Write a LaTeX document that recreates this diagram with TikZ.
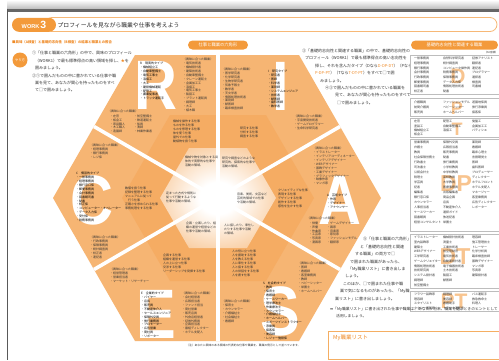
\documentclass[tikz,border=0pt]{standalone}
\usepackage{fontspec}
\setmainfont{Noto Sans CJK JP}
\newfontfamily\lsans{Liberation Sans}
\newfontfamily\djv{DejaVu Sans}
\definecolor{org}{HTML}{F39A3B}
\definecolor{orgt}{HTML}{EF8A26}
\definecolor{hexlt}{HTML}{F9CD9D}
\definecolor{hexmd}{HTML}{F6B573}
\definecolor{hexdk}{HTML}{F5AC63}
\definecolor{ltr}{HTML}{F8C48F}
\definecolor{tbl}{HTML}{BDBDBD}
\definecolor{ink}{HTML}{333333}
\pgfdeclareradialshading{outsh}{\pgfpointorigin}{color(0bp)=(hexmd);color(28bp)=(hexmd);color(50bp)=(hexlt)}
\pgfdeclareradialshading{glow}{\pgfpointorigin}{color(0bp)=(white);color(8bp)=(white);color(30bp)=(hexdk!65);color(50bp)=(hexdk)}
\tikzset{
  lst/.style={font=\fontsize{3}{3.9}\selectfont, align=left, anchor=north west, inner sep=0pt, text=ink},
  typ/.style={lst, text=black},
  bigl/.style={font=\lsans\bfseries\fontsize{70}{70}\selectfont, text=white, xscale=0.85, inner sep=0pt},
  ins/.style={font=\fontsize{4}{4}\selectfont, anchor=west, inner sep=0pt, text=ink},
  pill/.style={fill=org, rounded corners=4.5pt, text=white, inner sep=0pt, font=\fontsize{4.3}{4.3}\selectfont},
  tbox/.style={draw=tbl, line width=0.5pt, fill=white},
  tcol/.style={font=\fontsize{3}{5}\selectfont, align=left, anchor=north west, inner sep=0pt, text=ink},
  pl/.style={font=\lsans\bfseries\fontsize{22}{22}\selectfont, text=ltr, inner sep=0pt},
  divider/.style={white, line width=3.6pt},
}
\begin{document}
\begin{tikzpicture}[x=1pt,y=-1pt]
\useasboundingbox (0,0) rectangle (499,360);
\fill[white] (0,0) rectangle (499,360);
% page frame
\shade[top color=white, bottom color=black!25] (7,0) rectangle (499,8.5);
\fill[black!60] (7,8.5) rectangle (499,12);
\draw[black!65, line width=0.9pt] (7,8.5) -- (7,360);

% title
\draw[org!70, line width=0.8pt, rounded corners=7pt] (45,17.5) rectangle (497,31.5);
\node[fill=org, rounded corners=7pt, minimum width=44pt, minimum height=14pt, inner sep=0pt, text=white] (work) at (34,24.8) {\lsans\bfseries\fontsize{5.6}{5.6}\selectfont WORK\,\fontsize{10.5}{10.5}\selectfont 3};
\node[font=\fontsize{5.8}{5.8}\selectfont, anchor=west, inner sep=0pt, text=black!85] (title) at (57.5,24.8) {プロフィールを見ながら職業や仕事を考えよう};

% subheading
\node[font=\bfseries\fontsize{3.4}{3.4}\selectfont, anchor=west, inner sep=0pt, text=orgt] (sub) at (12,42.5) {■興味（A検査）と基礎的志向性（B検査）の結果と職業との照合};
\node[circle, fill=org, minimum size=15pt, inner sep=0pt, text=white, font=\fontsize{3.3}{3.3}\selectfont] (yari) at (20,60) {やり方};

% left instructions
\node[ins] (i1) at (32,53) {①「仕事と職業の六角形」の中で、興味のプロフィール};
\node[ins] (i2) at (35,60.5) {（WORK1）で最も標準得点の高い領域を探し、\textcolor{orgt}{★}を};
\node[ins] (i3) at (35,68) {囲みましょう。};
\node[ins] (i4) at (32,75.5) {②①で囲んだものの中に書かれている仕事や職};
\node[ins] (i5) at (35,83) {業を見て、あなたが関心を持ったものをすべ};
\node[ins] (i6) at (35,90.5) {て□で囲みましょう。};

% pills
\node[pill, minimum width=60pt, minimum height=9pt] (hexpill) at (218,45) {仕事と職業の六角形};
\node[pill, minimum width=87pt, minimum height=9pt] (dptpill) at (454.5,45) {基礎的志向性と関連する職業};
\node[font=\fontsize{2.6}{2.6}\selectfont, anchor=east, inner sep=0pt, text=ink] (order) at (498,52.5) {（50音順）};

% hexagon
\shade[shading=outsh] (53,198) -- (135,55) -- (299,55) -- (381,198) -- (299,341) -- (135,341) -- cycle;
\fill[hexdk] (314,198) -- (266,115) -- (170,115) -- (122,198) -- (170,281) -- (266,281) -- cycle;
\shade[shading=glow] (276,198) -- (247,148) -- (189,148) -- (160,198) -- (189,248) -- (247,248) -- cycle;
\coordinate (mT) at (218,55); \coordinate (mB) at (218,341);
\coordinate (mUL) at (94,126.5); \coordinate (mLR) at (340,269.5);
\coordinate (mLL) at (94,269.5); \coordinate (mUR) at (340,126.5);
\draw[divider] (mT) -- (mB);
\draw[divider] (mUL) -- (mLR);
\draw[divider] (mLL) -- (mUR);

% big letters
\node[bigl] (LR) at (156,85) {R};
\node[bigl] (LI) at (281,86) {I};
\node[bigl] (LA) at (340,200) {A};
\node[bigl] (LS) at (280,311) {S};
\node[bigl] (LE) at (156,314) {E};
\node[bigl] (LC) at (92,200) {C};

% R sector
\node[typ] (Rt) at (140,62) {R　現実的タイプ\\・機械組立工\\・自動車整備士\\・電気工事士\\・溶接工\\・大工\\・建設機械運転\\・配管工\\・農業従事者\\・トラック運転手};
\node[lst] (Ru) at (183,58) {〈興味に合った職業〉\\・電気技術者\\・機械設計者\\・建築技術者\\・自動車整備士\\・クレーン運転士\\・金属加工工\\・溶接工\\・電気工事士\\・製図工\\・プラント運転員\\・調理師\\・大工\\・植木職};
\node[lst] (Rh) at (108,110) {〈興味に合った職業〉};
\node[lst] (Rc1) at (110,114.5) {・左官\\・板金工\\・家具職人\\・木工職人\\・造園師};
\node[lst] (Rc2) at (134,114.5) {・航空整備士\\・鉄道運転士\\・船員\\・漁師\\・林業作業者};
\node[lst] (Rm) at (173,120) {機械を操作する仕事\\ものを作る仕事\\ものを修理する仕事\\体を使う仕事\\屋外での仕事\\動植物を扱う仕事};
\node[lst] (Ri) at (185,156) {機械や物を対象とする具\\体的で実際的な仕事や\\活動の領域。};

% I sector
\node[lst] (Il) at (222,68) {〈興味に合った職業〉\\・医学研究者\\・化学研究者\\・生物学研究者\\・気象予報士\\・数学者\\・天文学者\\・情報処理技術者\\・薬剤師\\・獣医師\\・臨床検査技師};
\node[typ] (It) at (268,70) {I　研究タイプ\\・研究者\\・医師\\・科学者\\・薬剤師\\・システムエンジニア\\・技術者\\・獣医師\\・歯科医師\\・数学者};
\node[lst] (Ir) at (294,115) {〈興味に合った職業〉\\・宇宙開発技術者\\・ゲームプログラマー\\・生命科学研究者};
\node[lst] (Im) at (240,127) {研究する仕事\\分析する仕事\\調査する仕事};
\node[lst] (Ii) at (222,157) {研究や調査などのような\\研究的、探索的な仕事や\\活動の領域。};

% A sector
\node[lst] (Au) at (313,147) {〈興味に合った職業〉\\・イラストレーター\\・インテリアコーディネーター\\・インテリアデザイナー\\・WEBデザイナー\\・服飾デザイナー\\・工業デザイナー\\・グラフィックデザイナー\\・映像作家\\・マンガ家};
\node[typ] (At) at (327,194) {A　芸術タイプ\\・作家\\・デザイナー\\・アナウンサー};
\node[lst] (Ah) at (307,217) {〈興味に合った職業〉};
\node[lst] (Ac1) at (309,221.5) {・俳優\\・声優\\・作曲家\\・工芸家\\・写真家\\・漫画家};
\node[lst] (Ac2) at (327,221.5) {・ゲームデザイナー\\・画家\\・音楽家\\・彫刻家\\・ファッションモデル\\・翻訳家};
\node[lst] (Am) at (278,189) {クリエイティブな仕事\\表現する仕事\\デザインする仕事\\創作する仕事\\感性を生かす仕事};
\node[lst] (Ai) at (237,193) {音楽、美術、文芸など\\芸術的領域での仕事\\や活動の領域。};

% S sector
\node[lst] (Sr) at (298,262) {〈興味に合った職業〉\\・医師\\・看護師\\・客室乗務員\\・教師\\・ベビーシッター\\・栄養士\\・ホームヘルパー};
\node[typ] (St) at (263,282) {S　社会的タイプ\\・教員\\・保育士\\・看護師\\・ケースワーカー\\・理学療法士\\・作業療法士\\・カウンセラー\\・介護福祉士\\・ホームヘルパー\\・スポーツインストラクター\\・添乗員\\・接客係\\・美容師\\・レジャー施設係};
\node[lst] (Sl) at (222,300) {〈興味に合った職業〉\\・保育士\\・カウンセラー\\・介護福祉士\\・社会福祉士\\・看護師};
\node[lst] (Sm) at (232,250) {人の役に立つ仕事\\人を援助する仕事\\人を教える仕事\\人に奉仕する仕事\\人と接する仕事\\人の世話をする仕事\\人を癒す仕事};
\node[lst] (Si) at (224,224) {人に接したり、奉仕し\\たりする仕事や活動\\の領域。};

% E sector
\node[lst] (Ei) at (186,222) {企画・立案したり、組\\織の運営や経営などの\\仕事や活動の領域。};
\node[lst] (Em) at (163,254) {企画する仕事\\組織を運営する仕事\\人の上に立つ仕事\\交渉する仕事\\リーダーシップを発揮する仕事};
\node[lst] (Eu) at (110,268) {〈興味に合った職業〉\\・経営管理者\\・営業担当者\\・マーケット・リサーチャー};
\node[typ] (Et) at (141,292) {E　企業的タイプ\\・バイヤー\\・店長\\・販売員\\・不動産仲介人\\・セールスエンジニア\\・保険外交員\\・旅行業務員\\・プロモーター\\・広告営業\\・商社員\\・リポーター};
\node[lst] (Er) at (182,292) {〈興味に合った職業〉\\・会社経営者\\・広報担当者\\・ファンド担当\\・商社営業\\・販売店員\\・外食店経営者\\・証券外務員\\・企画担当者\\・番組ディレクター\\・ホテル支配人};

% C sector
\node[lst] (Cu) at (90,144) {〈興味に合った職業〉\\・経理事務員\\・銀行事務員\\・レジ係};
\node[typ] (Ct) at (76,172) {C　慣習的タイプ\\・一般事務員\\・経理事務員\\・銀行窓口係\\・郵便事務員\\・会計事務員\\・図書館司書\\・秘書\\・校正係\\・コンピューター・オペレーター\\・データ入力係\\・受付係\\・税務事務員};
\node[lst] (Cl) at (90,236) {〈興味に合った職業〉\\・行政事務員\\・保険事務員\\・統計調査員\\・校正者\\・速記者};
\node[lst] (Cm) at (125,187) {数値を扱う仕事\\記録を整理する仕事\\マニュアルに従って\\　行う仕事\\正確さを求められる仕事\\事務処理をする仕事};
\node[lst] (Ci) at (166,192) {定まった方式や規則に\\従って行動するような\\仕事や活動の領域。};

\node[font=\fontsize{2.8}{2.8}\selectfont, anchor=west, inner sep=0pt, text=ink] (note) at (186,345.5) {（注）あなたに興味のある領域の代表的な仕事や職業を、職業の例示として並べています。};

% right instructions
\node[ins] (r1) at (302,51) {③「基礎的志向性と関連する職業」の中で、基礎的志向性の};
\node[ins] (r2) at (305,58.4) {プロフィール（WORK1）で最も標準得点の高い志向性を};
\node[ins] (r3) at (315,65.8) {探し、それを含んだタイプ（Dなら\textcolor{orgt}{D-DP-DT}）（Pなら};
\node[ins] (r4) at (315,73.2) {\textcolor{orgt}{P-DP-PT}）（Tなら\textcolor{orgt}{T-DT-PT}）をすべて□で囲};
\node[ins] (r5) at (320,80.6) {みましょう。};
\node[ins] (r6) at (325,88) {④③で囲んだものの中に書かれている職業を};
\node[ins] (r7) at (335,95.4) {見て、あなたが関心を持ったものをすべて};
\node[ins] (r8) at (337,102.8) {□で囲みましょう。};

% fifth instructions
\node[ins] (f1) at (363,239) {⑤「仕事と職業の六角形」};
\node[ins] (f2) at (360,246.5) {と「基礎的志向性と関連};
\node[ins] (f3) at (355,254) {する職業」の両方で□};
\node[ins] (f4) at (350,261.5) {で囲まれた職業があったら、};
\node[ins] (f5) at (348,269) {「My職業リスト」に書き出しま};
\node[ins] (f6) at (345,276.5) {しょう。};
\node[ins] (f7) at (343,284) {このほか、□で囲まれた仕事や職};
\node[ins] (f8) at (340,291.5) {業で気になるものがあったら、「My職};
\node[ins] (f9) at (335,299) {業リスト」に書き出しましょう。};

% right panel tables
\draw[tbox] (410,55) rectangle (502,94);
\draw[tbox] (410,98) rectangle (502,116);
\draw[tbox] (410,118) rectangle (502,137);
\draw[tbox] (410,139) rectangle (502,231);
\draw[tbox] (410,234) rectangle (502,288);
\draw[tbox] (410,291) rectangle (502,311);
\node[pl, font=\lsans\bfseries\fontsize{21}{21}\selectfont] (pD) at (458,76) {D};
\node[pl, font=\lsans\bfseries\fontsize{18}{18}\selectfont] (pP) at (457,108) {P};
\node[pl, font=\lsans\bfseries\fontsize{18}{18}\selectfont] (pT) at (457,129) {T};
\node[pl, font=\lsans\bfseries\fontsize{23}{23}\selectfont] (pDP) at (456,184) {DP};
\node[pl, font=\lsans\bfseries\fontsize{23}{23}\selectfont] (pDT) at (455,257) {DT};
\node[pl, font=\lsans\bfseries\fontsize{21}{21}\selectfont] (pPT) at (454,301) {PT};

\begin{scope}[every node/.style={tcol}]
\node[font=\fontsize{3}{4.7}\selectfont] (d1) at (414,57) {一般事務員\\経理事務員\\銀行事務員\\会計事務員\\行政事務員\\郵便事務員\\図書館司書\\校正者};
\node[font=\fontsize{3}{4.7}\selectfont] (d2) at (443,57) {自然科学研究者\\統計調査員\\コンピュータ操作員\\税務事務員\\保険事務員\\データ入力係\\情報処理技術者\\秘書};
\node[font=\fontsize{3}{4.7}\selectfont] (d3) at (472,57) {証券アナリスト\\翻訳者\\速記者\\プログラマー\\通訳者\\検査員\\司書補};
\node (p1) at (414,100.5) {介護職員\\訪問介護員\\販売員};
\node (p2) at (443,100.5) {ファッションモデル\\ベビーシッター\\ホームヘルパー};
\node (p3) at (472,100.5) {遊園地係員\\旅行添乗員\\接客係};
\node[font=\fontsize{3}{4.4}\selectfont] (t1) at (414,120) {左官\\塗装工\\機械組立工\\板金工};
\node[font=\fontsize{3}{4.4}\selectfont] (t2) at (443,120) {配管工\\自動車整備工\\溶接工};
\node[font=\fontsize{3}{4.4}\selectfont] (t3) at (472,120) {旋盤工\\金属加工工\\パティシエ};
\node (dp1) at (414,141) {営業事務員\\弁護士\\教員\\社会保険労務士\\行政書士\\司法書士\\公認会計士\\税理士\\学芸員\\記者\\編集者\\銀行窓口係\\カウンセラー\\人事担当者\\ケースワーカー\\図書館員\\経営コンサルタント};
\node (dp2) at (443,141) {保険外交員\\広報担当者\\販売事務員\\秘書\\旅行業務員\\小学校教員\\中学校教員\\高校教員\\大学教員\\医療事務員\\出版編集者\\商品企画\\店長\\不動産仲介人\\通訳ガイド\\放送記者\\栄養士};
\node (dp3) at (472,141) {薬剤師\\看護師\\臨床心理士\\言語聴覚士\\医師\\歯科医師\\プロデューサー\\ディレクター\\ホテルフロント\\ホテル支配人\\マネージャー\\客室乗務員\\広告ディレクター\\レポーター};
\node[font=\fontsize{3}{4.75}\selectfont] (dt1) at (414,236) {イラストレーター\\室内装飾家\\建築士\\WEBデザイナー\\工学研究者\\ゲームクリエイター\\情報処理技術者\\技術研究員\\システム設計者\\調理師\\航空整備士};
\node[font=\fontsize{3}{4.75}\selectfont] (dt2) at (443,236) {機械設計技術者\\測量士\\工業技術者\\航空管制官\\電気技術者\\自動車設計者\\電子機器技術者\\土木技術者\\製図工\\獣医師};
\node[font=\fontsize{3}{4.75}\selectfont] (dt3) at (472,236) {理容師\\施工管理技士\\トレーサー\\化学分析員\\臨床検査技師\\服飾デザイナー\\マンガ家\\写真家\\建築設計者};
\node[font=\fontsize{3}{4.5}\selectfont] (pt1) at (414,293) {フラワー装飾家\\理容師\\スタイリスト\\タクシー運転手};
\node[font=\fontsize{3}{4.5}\selectfont] (pt2) at (443,293) {調理師\\美容師\\看護助手\\トラック運転手};
\node[font=\fontsize{3}{4.5}\selectfont] (pt3) at (472,293) {バス運転手\\救急救命士\\料理人};
\end{scope}

% bottom right
\node[font=\fontsize{3.8}{3.8}\selectfont, anchor=west, inner sep=0pt, text=ink] (hint1) at (330,309) {{\djv\fontsize{3.6}{3.6}\selectfont ➡}「My職業リスト」に書き出された仕事や職業は、あなたが将来、職業を選ぶときのヒントとして};
\node[font=\fontsize{3.8}{3.8}\selectfont, anchor=west, inner sep=0pt, text=ink] (hint2) at (336,316) {活用しましょう。};
\draw[org!80, line width=0.7pt, fill=white] (328,331) rectangle (503,359);
\node[font=\fontsize{5.5}{5.5}\selectfont, anchor=west, inner sep=0pt, text=orgt] (mylist) at (333,337.5) {My職業リスト};
\end{tikzpicture}
\end{document}
